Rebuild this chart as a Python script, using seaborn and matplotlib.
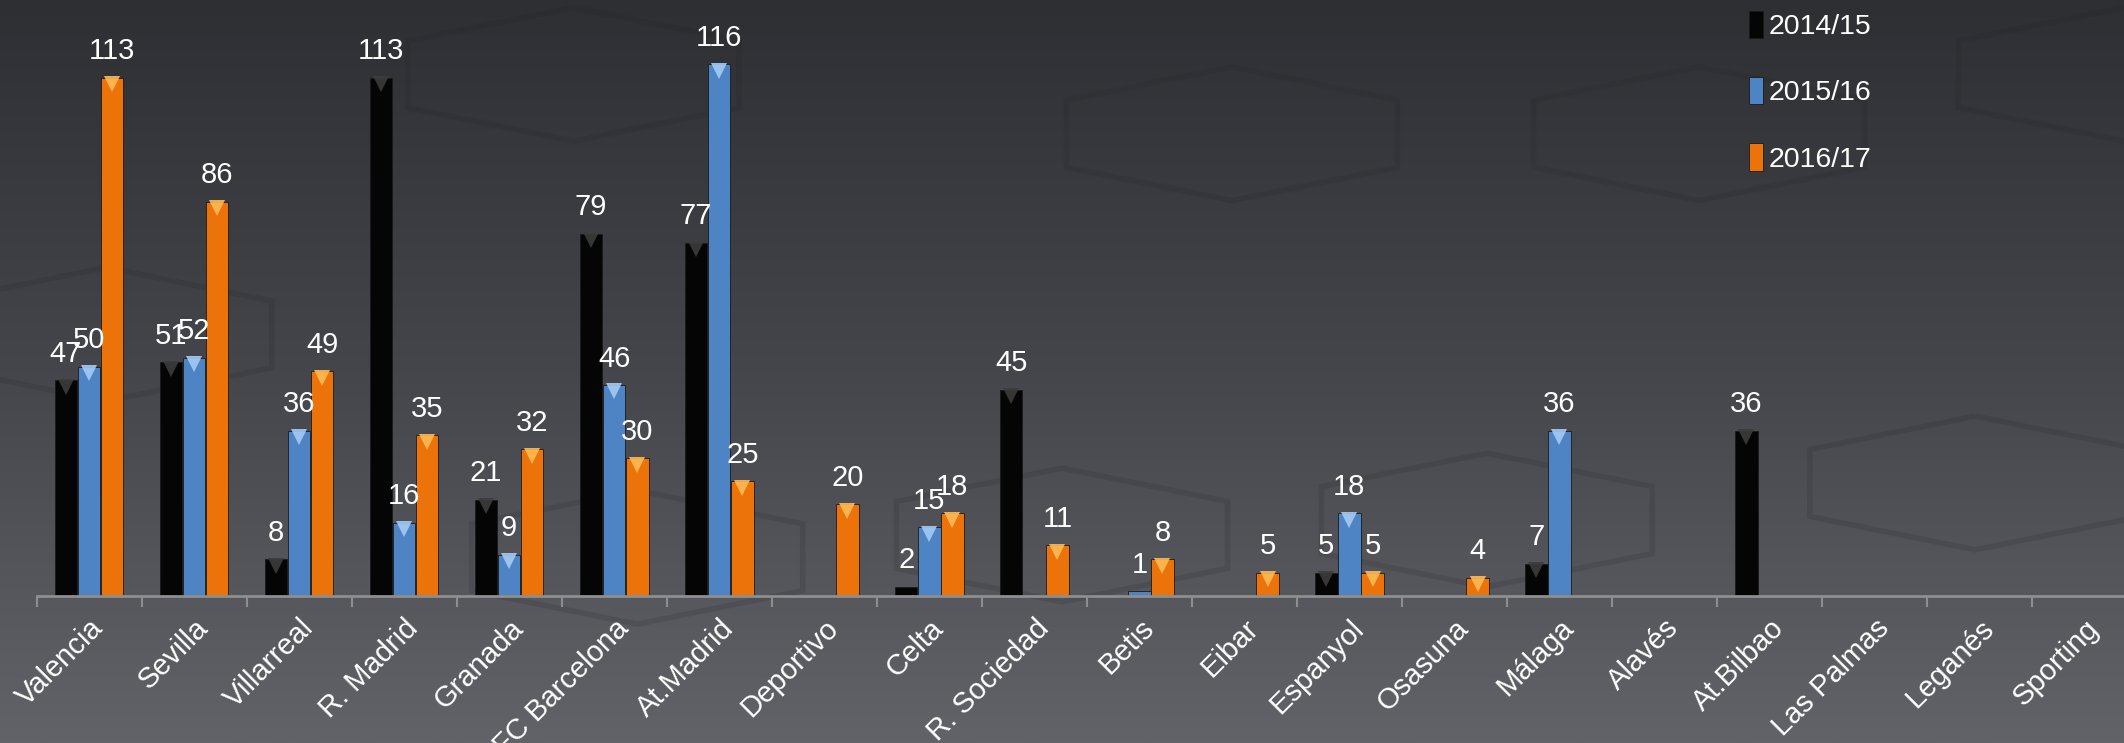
import numpy as np
import pandas as pd
import matplotlib
matplotlib.use("Agg")
import matplotlib.pyplot as plt
from matplotlib.patches import RegularPolygon
import seaborn as sns

# data
teams = ["Valencia", "Sevilla", "Villarreal", "R. Madrid", "Granada", "FC Barcelona",
         "At.Madrid", "Deportivo", "Celta", "R. Sociedad", "Betis", "Eibar", "Espanyol",
         "Osasuna", "Málaga", "Alavés", "At.Bilbao", "Las Palmas", "Leganés", "Sporting"]
seasons = ["2014/15", "2015/16", "2016/17"]
s2014 = [47, 51, 8, 113, 21, 79, 77, None, 2, 45, None, None, 5, None, 7, None, 36, None, None, None]
s2015 = [50, 52, 36, 16, 9, 46, 116, None, 15, None, 1, None, 18, None, 36, None, None, None, None, None]
s2016 = [113, 86, 49, 35, 32, 30, 25, 20, 18, 11, 8, 5, 5, 4, None, None, None, None, None, None]

colors = ["#050505", "#4f84c4", "#ec720a"]
tops = ["#3c3c3c", "#a4cbf5", "#ffbb55"]

rows = []
for season, vals in zip(seasons, [s2014, s2015, s2016]):
    for t, v in zip(teams, vals):
        if v is not None:
            rows.append({"team": t, "season": season, "value": v})
df = pd.DataFrame(rows)

sns.set_theme(style="white")
plt.rcParams["font.family"] = ["Liberation Sans", "DejaVu Sans"]

fig = plt.figure(figsize=(21.24, 7.43), dpi=100)

# background gradient with faint hexagons
bg = fig.add_axes([0, 0, 1, 1], zorder=-5)
grad = np.linspace(0, 1, 256).reshape(-1, 1)
cmap = matplotlib.colors.LinearSegmentedColormap.from_list("bg", ["#2e2f33", "#45464b", "#616368"])
bg.imshow(grad, aspect="auto", cmap=cmap, extent=[0, 1, 0, 1], origin="upper")
for cx, cy in [(0.05, 0.55), (0.27, 0.90), (0.58, 0.82), (0.50, 0.28), (0.80, 0.82),
               (0.70, 0.30), (0.93, 0.35), (0.30, 0.25), (1.0, 0.9)]:
    bg.add_patch(RegularPolygon((cx, cy), 6, radius=0.09, orientation=0,
                                fill=False, edgecolor="#1f2023", alpha=0.15, lw=4,
                                transform=bg.transAxes))
bg.set_xlim(0, 1)
bg.set_ylim(0, 1)
bg.axis("off")

ax = fig.add_axes([0.0172, 0.198, 0.989, 0.802])
ax.patch.set_alpha(0)

sns.barplot(data=df, x="team", y="value", hue="season", order=teams, hue_order=seasons,
            palette=colors, saturation=1, width=0.66, gap=0.03, ax=ax, legend=True,
            edgecolor="#1a1a1a", linewidth=0.6)

for cont, top in zip(ax.containers, tops):
    ax.bar_label(cont, fmt="%.0f", padding=9, color="white", fontsize=21)
    for p in cont:
        x = p.get_x() + p.get_width() / 2
        h = p.get_height()
        if h >= 3:
            ax.plot(x, h - 1.4, marker="v", ms=11, color=top, alpha=0.9,
                    markeredgewidth=0, zorder=5)

ax.set_ylim(0, 130)
ax.set_xlim(-0.5, len(teams) - 0.5)
ax.set_xlabel("")
ax.set_ylabel("")
ax.set_yticks([])
for s in ["top", "right", "left"]:
    ax.spines[s].set_visible(False)
ax.spines["bottom"].set_color("#8e8e8e")
ax.spines["bottom"].set_linewidth(2)

ax.set_xticks(range(len(teams)))
ax.set_xticklabels(teams, rotation=45, ha="right", rotation_mode="anchor",
                   color="white", fontsize=21)
ax.tick_params(axis="x", which="major", length=0, pad=13)
ax.set_xticks(np.arange(-0.5, len(teams), 1), minor=True)
ax.tick_params(axis="x", which="minor", length=8, width=1.5, color="#8e8e8e", bottom=True)

leg = ax.legend(loc="upper left", bbox_to_anchor=(0.803, 1.025), frameon=False,
                fontsize=20.5, labelcolor="white", handlelength=0.5, handleheight=1.1,
                handletextpad=0.2, labelspacing=1.3)

fig.savefig("out.png", dpi=100)
